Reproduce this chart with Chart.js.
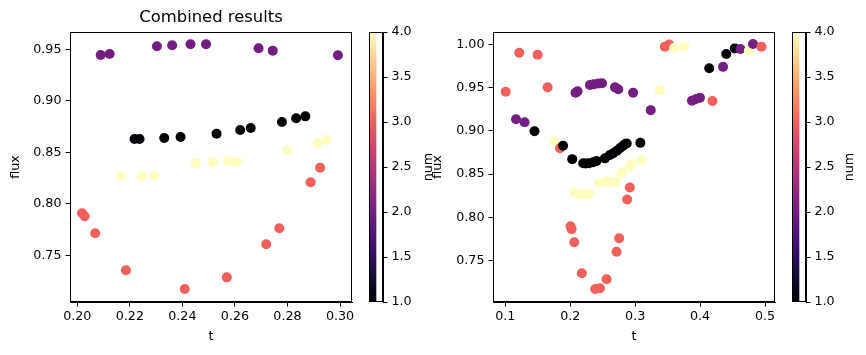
<!DOCTYPE html>
<html><head><meta charset="utf-8">
<script src="https://cdn.jsdelivr.net/npm/chart.js@4"></script>
<style>
html,body{margin:0;padding:0;background:#fff;}
#wrap{position:relative;width:866px;height:355px;overflow:hidden;background:#fff;}
canvas{position:absolute;top:0;}
</style></head><body>
<div id="wrap">
<canvas id="cbL" style="left:360px;width:73px;height:355px" width="73" height="355"></canvas>
<canvas id="scL" style="left:0px;width:360px;height:355px" width="360" height="355"></canvas>
<canvas id="scR" style="left:422px;width:361px;height:355px" width="361" height="355"></canvas>
<canvas id="cbR" style="left:783px;width:83px;height:355px" width="83" height="355"></canvas>
</div>
<script>
// ---------------- DATA ----------------
// Left panel ("Combined results")
const leftT1 = [0.2218,0.2237,0.2331,0.2393,0.2530,0.2620,0.2660,0.2779,0.2833,0.2868];
const leftF1 = [0.8629,0.8629,0.8639,0.8649,0.8681,0.8717,0.8736,0.8795,0.8830,0.8849];
const leftT2 = [0.2089,0.2123,0.2303,0.2361,0.2431,0.2490,0.2690,0.2744,0.2992];
const leftF2 = [0.9445,0.9455,0.9529,0.9539,0.9549,0.9549,0.9510,0.9487,0.9442];
const leftT3 = [0.2018,0.2028,0.2068,0.2185,0.2409,0.2569,0.2719,0.2769,0.2888,0.2924];
const leftF3 = [0.7908,0.7879,0.7714,0.7354,0.7173,0.7286,0.7607,0.7762,0.8209,0.8351];
const leftT4 = [0.2166,0.2246,0.2292,0.2451,0.2516,0.2574,0.2608,0.2800,0.2915,0.2948];
const leftF4 = [0.8267,0.8267,0.8273,0.8393,0.8403,0.8416,0.8406,0.8519,0.8591,0.8623];
// Right panel
const rightT1 = [0.1450,0.1890,0.2031,0.2200,0.2240,0.2290,0.2354,0.2406,0.2534,0.2611,0.2662,0.2720,0.2765,0.2810,0.2842,0.2870,0.3080,0.4141,0.4403,0.4534];
const rightF1 = [0.8997,0.8829,0.8673,0.8625,0.8622,0.8625,0.8636,0.8651,0.8682,0.8721,0.8741,0.8770,0.8799,0.8825,0.8845,0.8855,0.8862,0.9726,0.9892,0.9957];
const rightT2 = [0.1165,0.1297,0.2082,0.2113,0.2303,0.2361,0.2431,0.2490,0.2690,0.2740,0.2969,0.3240,0.3875,0.3938,0.3998,0.4354,0.4621,0.4815];
const rightF2 = [0.9135,0.9100,0.9444,0.9459,0.9532,0.9540,0.9549,0.9552,0.9505,0.9484,0.9443,0.9241,0.9351,0.9370,0.9384,0.9743,0.9950,1.0008];
const rightT3 = [0.1006,0.1215,0.1498,0.1652,0.1842,0.2005,0.2021,0.2062,0.2179,0.2385,0.2457,0.2560,0.2713,0.2754,0.2877,0.2918,0.3457,0.3523,0.4190,0.4945];
const rightF3 = [0.9455,0.9907,0.9884,0.9505,0.8799,0.7895,0.7862,0.7709,0.7350,0.7168,0.7176,0.7280,0.7600,0.7755,0.8205,0.8344,0.9977,1.0003,0.9347,0.9977];
const rightT4 = [0.1756,0.2072,0.2130,0.2200,0.2246,0.2292,0.2441,0.2516,0.2574,0.2640,0.2697,0.2785,0.2800,0.2915,0.2948,0.3103,0.3377,0.3600,0.3756,0.4752];
const rightF4 = [0.8881,0.8285,0.8270,0.8267,0.8267,0.8273,0.8393,0.8403,0.8416,0.8410,0.8412,0.8509,0.8519,0.8591,0.8623,0.8663,0.9476,0.9960,0.9977,0.9932];
// Tick values
const leftXTicks = [0.20,0.22,0.24,0.26,0.28,0.30];
const leftYTicks = [0.75,0.80,0.85,0.90,0.95];
const rightXTicks = [0.1,0.2,0.3,0.4,0.5];
const rightYTicks = [0.75,0.80,0.85,0.90,0.95,1.00];
const cbTicks = [1.0,1.5,2.0,2.5,3.0,3.5,4.0];
const numMin = 1, numMax = 4;

// ---------------- STYLE ----------------
const FONT = 'DejaVu Sans';
const FS = 12.7;
Chart.defaults.font.family = FONT;
Chart.defaults.font.size = FS;
Chart.defaults.color = '#000';
Chart.defaults.animation = false;
Chart.defaults.devicePixelRatio = 1;

const magmaStops = [
  [0.0,'#000004'],[0.1,'#140e36'],[0.2,'#3b0f70'],[0.3,'#641a80'],[1/3,'#721f81'],
  [0.4,'#8c2981'],[0.5,'#b73779'],[0.6,'#de4968'],[2/3,'#f1605d'],[0.7,'#f7705c'],
  [0.8,'#fe9f6d'],[0.9,'#fecf92'],[1.0,'#fcfdbf']
];
function hex2rgb(h){return [parseInt(h.substr(1,2),16),parseInt(h.substr(3,2),16),parseInt(h.substr(5,2),16)];}
function magma(f){
  f=Math.max(0,Math.min(1,f));
  for(let i=1;i<magmaStops.length;i++){
    const [p1,c1]=magmaStops[i-1],[p2,c2]=magmaStops[i];
    if(f<=p2+1e-9){
      const u=(f-p1)/(p2-p1), a=hex2rgb(c1), b=hex2rgb(c2);
      return 'rgb('+a.map((v,k)=>Math.round(v+(b[k]-v)*u)).join(',')+')';
    }
  }
  return magmaStops[magmaStops.length-1][1];
}
function colorFor(n){return magma((n-numMin)/(numMax-numMin));}

function buildPoints(groups){
  const pts=[];
  groups.forEach(([ts,fs,n])=>ts.forEach((t,i)=>pts.push({x:t,y:fs[i],num:n})));
  pts.sort((a,b)=>a.x-b.x);
  return pts;
}

const framePlugin = {
  id:'frame',
  afterDraw(chart){
    const a=chart.chartArea, ctx=chart.ctx;
    ctx.save(); ctx.strokeStyle='#000'; ctx.lineWidth=1;
    ctx.strokeRect(Math.round(a.left)+0.5,Math.round(a.top)+0.5,Math.round(a.right-a.left)-1,Math.round(a.bottom-a.top)-1);
    ctx.restore();
  }
};

function makeTitlePlugin(text){
  return {id:'axtitle',afterDraw(chart){
    if(!text) return;
    const a=chart.chartArea, ctx=chart.ctx;
    ctx.save(); ctx.fillStyle='#000'; ctx.font='16.4px "'+FONT+'"';
    ctx.textAlign='center'; ctx.textBaseline='middle';
    ctx.fillText(text,(a.left+a.right)/2,18);
    ctx.restore();
  }};
}

function scatterChart(id, pts, xt, yt, xmin, xmax, ymin, ymax, xdec, ydec, yAxisW, padRight, titleText){
  const opts = {
    responsive:false, maintainAspectRatio:false,
    layout:{padding:{left:0,right:padRight,top:32,bottom:0}},
    plugins:{legend:{display:false},tooltip:{enabled:false},title:{display:false}},
    scales:{
      x:{type:'linear',position:'bottom',min:xmin,max:xmax,
        afterBuildTicks:s=>{s.ticks=xt.map(v=>({value:v}));},
        afterFit:s=>{s.height=53;},
        ticks:{autoSkip:false,maxRotation:0,padding:3,color:'#000',font:{size:FS},callback:v=>Number(v).toFixed(xdec)},
        grid:{display:true,drawOnChartArea:false,drawTicks:true,tickLength:4.5,color:'#000',lineWidth:1},
        border:{display:true,color:'#000',width:1},
        title:{display:true,text:'t',color:'#000',font:{size:FS},padding:{top:0,bottom:11}}
      },
      y:{type:'linear',position:'left',min:ymin,max:ymax,
        afterBuildTicks:s=>{s.ticks=yt.map(v=>({value:v}));},
        afterFit:s=>{s.width=yAxisW;},
        ticks:{autoSkip:false,padding:4,color:'#000',font:{size:FS},callback:v=>Number(v).toFixed(ydec)},
        grid:{display:true,drawOnChartArea:false,drawTicks:true,tickLength:4.5,color:'#000',lineWidth:1},
        border:{display:true,color:'#000',width:1},
        title:{display:true,text:'flux',color:'#000',font:{size:FS},padding:{top:8.4,bottom:0}}
      }
    }
  };
  return new Chart(document.getElementById(id),{
    type:'scatter',
    data:{datasets:[{data:pts,
      backgroundColor:c=>colorFor(c.raw?c.raw.num:1),
      borderWidth:0,pointRadius:5,pointHoverRadius:5}]},
    options:opts,
    plugins:[framePlugin,makeTitlePlugin(titleText)]
  });
}

function colorbar(id, padLeft, barW, canvasW, labelX){
  const labelPlugin={id:'cblabel',afterDraw(chart){
    const a=chart.chartArea, ctx=chart.ctx;
    ctx.save(); ctx.fillStyle='#000'; ctx.font=FS+'px "'+FONT+'"';
    ctx.translate(labelX,(a.top+a.bottom)/2); ctx.rotate(-Math.PI/2);
    ctx.textAlign='center'; ctx.textBaseline='middle'; ctx.fillText('num',0,0); ctx.restore();
  }};
  return new Chart(document.getElementById(id),{
    type:'bar',
    data:{labels:['num'],datasets:[{data:[[numMin,numMax]],borderWidth:0,barPercentage:1,categoryPercentage:1,
      backgroundColor:c=>{
        const ch=c.chart,a=ch.chartArea; if(!a) return '#000';
        const ys=ch.scales.y;
        const g=ch.ctx.createLinearGradient(0,ys.getPixelForValue(numMin),0,ys.getPixelForValue(numMax));
        magmaStops.forEach(([p,col])=>g.addColorStop(p,col));
        return g;
      }}]},
    options:{
      responsive:false,maintainAspectRatio:false,
      layout:{padding:{left:padLeft,right:0,top:32,bottom:53}},
      plugins:{legend:{display:false},tooltip:{enabled:false}},
      scales:{
        x:{display:false,offset:false},
        y:{type:'linear',position:'right',min:numMin,max:numMax,
          afterBuildTicks:s=>{s.ticks=cbTicks.map(v=>({value:v}));},
          afterFit:s=>{s.width=canvasW-padLeft-barW;},
          ticks:{autoSkip:false,padding:4,color:'#000',font:{size:FS},callback:v=>Number(v).toFixed(1)},
          grid:{display:true,drawOnChartArea:false,drawTicks:true,tickLength:4.5,color:'#000',lineWidth:1},
          border:{display:true,color:'#000',width:1}
        }
      }
    },
    plugins:[framePlugin,labelPlugin]
  });
}

const leftPts = buildPoints([[leftT1,leftF1,1],[leftT2,leftF2,2],[leftT3,leftF3,3],[leftT4,leftF4,4]]);
const rightPts = buildPoints([[rightT1,rightF1,1],[rightT2,rightF2,2],[rightT3,rightF3,3],[rightT4,rightF4,4]]);

scatterChart('scL', leftPts, leftXTicks, leftYTicks, 0.19722, 0.30456, 0.70466, 0.96680, 2, 2, 70, 8, 'Combined results');
scatterChart('scR', rightPts, rightXTicks, rightYTicks, 0.08108, 0.51538, 0.7017, 1.01469, 1, 2, 71, 8, null);
colorbar('cbL', 9, 14, 73, 68.7);
colorbar('cbR', 9, 14, 83, 67);
</script>
</body></html>
